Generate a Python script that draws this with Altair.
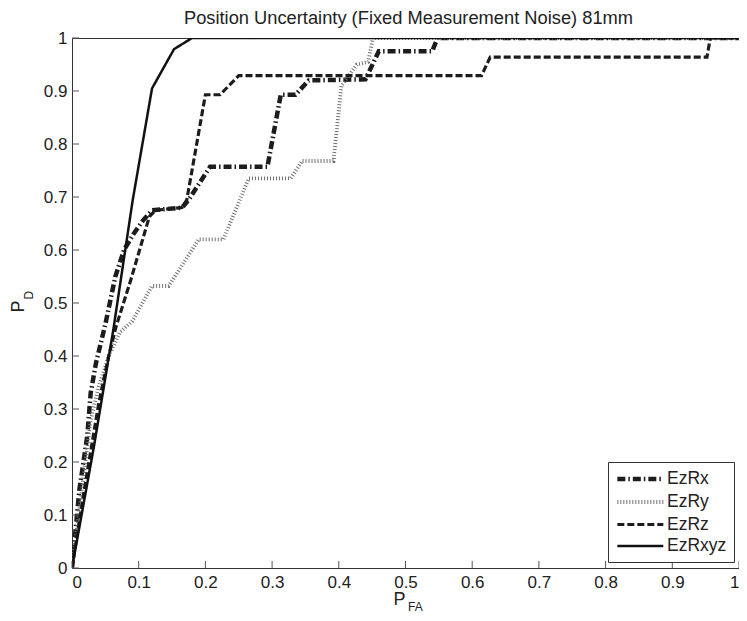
import altair as alt
import pandas as pd

TITLE = "Position Uncertainty (Fixed Measurement Noise) 81mm"
SERIES = ["EzRx", "EzRy", "EzRz", "EzRxyz"]

EZRX_X = [0, 0.011, 0.023, 0.028, 0.036, 0.05, 0.065, 0.078, 0.092, 0.106, 0.12, 0.165, 0.175, 0.207, 0.293, 0.313, 0.335, 0.355, 0.44, 0.46, 0.54, 0.548, 1.0]
EZRX_Y = [0, 0.147, 0.25, 0.33, 0.387, 0.46, 0.55, 0.60, 0.63, 0.655, 0.675, 0.68, 0.695, 0.757, 0.757, 0.893, 0.893, 0.92, 0.922, 0.975, 0.975, 1.0, 1.0]

EZRY_X = [0, 0.01, 0.02, 0.028, 0.04, 0.055, 0.072, 0.09, 0.12, 0.145, 0.19, 0.227, 0.265, 0.328, 0.345, 0.392, 0.404, 0.427, 0.444, 0.451, 1.0]
EZRY_Y = [0, 0.1, 0.2, 0.279, 0.342, 0.40, 0.445, 0.465, 0.532, 0.532, 0.62, 0.62, 0.735, 0.735, 0.768, 0.768, 0.91, 0.95, 0.955, 1.0, 1.0]

EZRZ_X = [0, 0.02, 0.04, 0.055, 0.066, 0.088, 0.116, 0.125, 0.165, 0.172, 0.2, 0.222, 0.25, 0.614, 0.627, 0.952, 0.957, 1.0]
EZRZ_Y = [0, 0.16, 0.31, 0.40, 0.455, 0.543, 0.663, 0.675, 0.68, 0.694, 0.893, 0.893, 0.929, 0.929, 0.964, 0.964, 1.0, 1.0]

EZRXYZ_X = [0, 0.033, 0.062, 0.091, 0.12, 0.153, 0.18, 1.0]
EZRXYZ_Y = [0, 0.23, 0.45, 0.694, 0.905, 0.979, 1.0, 1.0]

TICKS = [0, 0.1, 0.2, 0.3, 0.4, 0.5, 0.6, 0.7, 0.8, 0.9, 1.0]

COLORS = ["#1c1c1c", "#707070", "#1c1c1c", "#111111"]
DASHES = [[8, 3, 1.5, 3], [1, 2], [7, 3], [1, 0]]
WIDTHS = [4.5, 2.5, 4.5, 4.5]

FONT = "Liberation Sans"
AX = "#333333"
TICKC = "#555555"
TXT = "#222222"
W, H = 667, 530

rows = []
for name, xs, ys in [("EzRx", EZRX_X, EZRX_Y), ("EzRy", EZRY_X, EZRY_Y),
                     ("EzRz", EZRZ_X, EZRZ_Y), ("EzRxyz", EZRXYZ_X, EZRXYZ_Y)]:
    for i, (x, y) in enumerate(zip(xs, ys)):
        rows.append({"series": name, "pfa": x, "pd": y, "idx": i})
df = pd.DataFrame(rows)
ticks_df = pd.DataFrame({"t": TICKS})

xscale = alt.Scale(domain=[0, 1], nice=False, zero=False)
yscale = alt.Scale(domain=[0, 1], nice=False, zero=False)
xaxis = alt.Axis(values=TICKS, format="~g", ticks=False, domain=False, grid=False,
                 labelPadding=6, title=None)
yaxis = alt.Axis(values=TICKS, format="~g", ticks=False, domain=False, grid=False,
                 labelPadding=5, title=None)

leg = alt.Legend(title=None)
enc = dict(
    x=alt.X("pfa:Q", scale=xscale, axis=xaxis),
    y=alt.Y("pd:Q", scale=yscale, axis=yaxis),
    color=alt.Color("series:N", scale=alt.Scale(domain=SERIES, range=COLORS), legend=leg),
    strokeDash=alt.StrokeDash("series:N", scale=alt.Scale(domain=SERIES, range=DASHES), legend=leg),
    strokeWidth=alt.StrokeWidth("series:N", scale=alt.Scale(domain=SERIES, range=WIDTHS), legend=leg),
    order=alt.Order("idx:Q"),
)

base = alt.Chart(df)
lines = [
    base.transform_filter(alt.datum.series == s).mark_line(clip=True, strokeCap="butt", strokeJoin="miter").encode(**enc)
    for s in SERIES
]

tk = alt.Chart(ticks_df)
tick_len = 7
bottom_ticks = tk.mark_rule(color=TICKC, strokeWidth=1).encode(
    x=alt.X("t:Q", scale=xscale, axis=xaxis), y=alt.value(H), y2=alt.value(H - tick_len))
left_ticks = tk.mark_rule(color=TICKC, strokeWidth=1).encode(
    y=alt.Y("t:Q", scale=yscale, axis=yaxis), x=alt.value(0), x2=alt.value(tick_len))

one = ticks_df.head(1)
x_p = alt.Chart(one).mark_text(text="P", font=FONT, fontSize=18, color=TXT,
                               align="center", baseline="alphabetic").encode(
    x=alt.value(327.5), y=alt.value(567))
x_sub = alt.Chart(one).mark_text(text="FA", font=FONT, fontSize=12, color=TXT,
                                 align="left", baseline="alphabetic").encode(
    x=alt.value(336), y=alt.value(573))
y_p = alt.Chart(one).mark_text(text="P", font=FONT, fontSize=18, color=TXT, angle=270,
                               align="center", baseline="alphabetic").encode(
    x=alt.value(-48.5), y=alt.value(268.5))
y_sub = alt.Chart(one).mark_text(text="D", font=FONT, fontSize=12, color=TXT, angle=270,
                                 align="left", baseline="alphabetic").encode(
    x=alt.value(-39), y=alt.value(261.5))

chart = alt.layer(*lines, bottom_ticks, left_ticks, x_p, x_sub, y_p, y_sub).properties(
    width=W, height=H,
    title=alt.TitleParams(TITLE, font=FONT, fontSize=18.3, fontWeight="normal", color=TXT,
                          offset=1, anchor="middle", dx=3),
    autosize=alt.AutoSizeParams(type="none"),
    padding={"left": 64, "top": 30, "right": 0, "bottom": 45},
).configure_view(stroke=AX, strokeWidth=1).configure_axis(
    labelFont=FONT, labelFontSize=17, labelColor=TXT,
).configure_legend(
    orient="none", legendX=536, legendY=424, padding=7,
    fillColor="white", strokeColor=AX, strokeWidth=1, cornerRadius=0,
    labelFont=FONT, labelFontSize=17.5, labelColor=TXT, labelOffset=32,
    symbolType="M-1,0H5", symbolSize=235, rowPadding=4,
)

chart.save("out.html", embed_options={"renderer": "svg", "actions": False})
